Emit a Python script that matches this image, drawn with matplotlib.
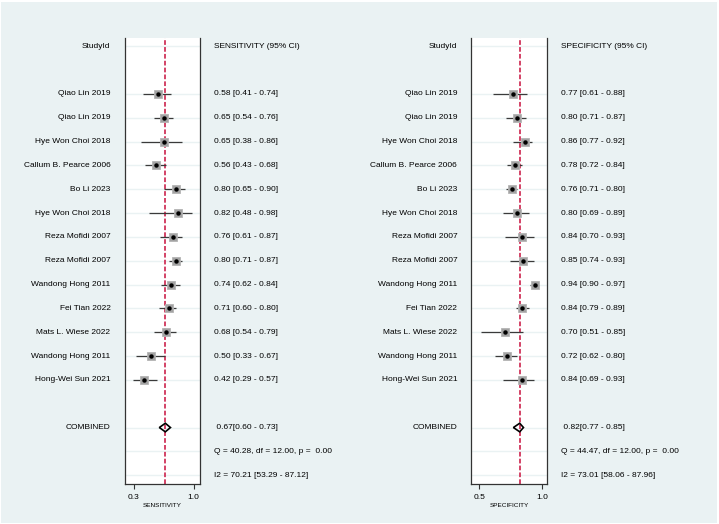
import numpy as np
import matplotlib.pyplot as plt
from matplotlib import transforms
from matplotlib.patches import Polygon, Rectangle

plt.rcParams['font.family'] = ['Liberation Sans', 'DejaVu Sans']

# Study data
studies = ['Qiao Lin 2019', 'Qiao Lin 2019', 'Hye Won Choi 2018', 'Callum B. Pearce 2006',
           'Bo Li 2023', 'Hye Won Choi 2018', 'Reza Mofidi 2007', 'Reza Mofidi 2007',
           'Wandong Hong 2011', 'Fei Tian 2022', 'Mats L. Wiese 2022', 'Wandong Hong 2011',
           'Hong-Wei Sun 2021']

sens = [0.58, 0.65, 0.65, 0.56, 0.80, 0.82, 0.76, 0.80, 0.74, 0.71, 0.68, 0.50, 0.42]
sens_lo = [0.41, 0.54, 0.38, 0.43, 0.65, 0.48, 0.61, 0.71, 0.62, 0.60, 0.54, 0.33, 0.29]
sens_hi = [0.74, 0.76, 0.86, 0.68, 0.90, 0.98, 0.87, 0.87, 0.84, 0.80, 0.79, 0.67, 0.57]

spec = [0.77, 0.80, 0.86, 0.78, 0.76, 0.80, 0.84, 0.85, 0.94, 0.84, 0.70, 0.72, 0.84]
spec_lo = [0.61, 0.71, 0.77, 0.72, 0.71, 0.69, 0.70, 0.74, 0.90, 0.79, 0.51, 0.62, 0.69]
spec_hi = [0.88, 0.87, 0.92, 0.84, 0.80, 0.89, 0.93, 0.93, 0.97, 0.89, 0.85, 0.80, 0.93]

sens_comb = [0.67, 0.60, 0.73]
spec_comb = [0.82, 0.77, 0.85]
sens_q = 'Q = 40.28, df = 12.00, p =  0.00'
spec_q = 'Q = 44.47, df = 12.00, p =  0.00'
sens_i2 = 'I2 = 70.21 [53.29 - 87.12]'
spec_i2 = 'I2 = 73.01 [58.06 - 87.96]'

bg = '#eaf2f3'
W, H = 719, 524

fig = plt.figure(figsize=(W / 100, H / 100), dpi=100)
fig.patch.set_facecolor('white')
fig.patches.append(Rectangle((1 / W, 1 / H), 1 - 3 / W, 1 - 3 / H, transform=fig.transFigure,
                             facecolor=bg, edgecolor='none', zorder=-10))


def panel(ax_rect, xlim, est, lo, hi, comb, q_text, i2_text, lab_x, val_x,
          header, xlabel, ticks):
    ax = fig.add_axes(ax_rect)
    ax.set_facecolor('white')
    n = len(est)
    rows = np.arange(2, 2 + n)
    comb_row, q_row, i2_row = n + 3, n + 4, n + 5

    # faint row lines
    for r in [0, *rows, comb_row, q_row, i2_row]:
        ax.axhline(r, color=bg, lw=1.0, zorder=0)

    ax.axvline(comb[0], color='#d0345a', lw=1.3, ls=(0, (2.6, 1.2)), zorder=1)

    ax.hlines(rows, lo, hi, color='#3a3a3a', lw=0.9, zorder=2)
    ax.plot(est, rows, 's', ms=5.5, color='#a3a3a3', mec='#b4b4b4', mew=0.6, zorder=3)
    ax.plot(est, rows, 'o', ms=2.2, color='black', zorder=4)

    h = 0.18
    dia = Polygon([[comb[1], comb_row], [comb[0], comb_row - h],
                   [comb[2], comb_row], [comb[0], comb_row + h]],
                  closed=True, fill=False, edgecolor='black', lw=1.2, zorder=5)
    ax.add_patch(dia)

    ax.set_xlim(*xlim)
    ax.set_ylim(i2_row + 0.37, -0.35)
    ax.set_yticks([])
    ax.set_xticks(ticks)
    ax.set_xticklabels([f'{t:.1f}' for t in ticks], fontsize=6)
    ax.tick_params(axis='x', length=3.6, width=0.8, color='#333333', pad=3.5)
    ax.set_xlabel(xlabel, fontsize=4.6, labelpad=1.2)
    ax.spines['top'].set_visible(False)
    for s in ['left', 'right', 'bottom']:
        ax.spines[s].set_color('#333333')
        ax.spines[s].set_linewidth(0.9)

    tr = transforms.blended_transform_factory(fig.transFigure, ax.transData)
    fs = 6
    ax.text(lab_x, 0, 'StudyId', transform=tr, ha='right', va='center', fontsize=fs)
    ax.text(val_x, 0, header, transform=tr, ha='left', va='center', fontsize=fs)
    for r, name, e, l, u in zip(rows, studies, est, lo, hi):
        ax.text(lab_x, r, name, transform=tr, ha='right', va='center', fontsize=fs)
        ax.text(val_x, r, f'{e:.2f} [{l:.2f} - {u:.2f}]', transform=tr,
                ha='left', va='center', fontsize=fs)
    ax.text(lab_x, comb_row, 'COMBINED', transform=tr, ha='right', va='center', fontsize=fs)
    ax.text(val_x, comb_row, f' {comb[0]:.2f}[{comb[1]:.2f} - {comb[2]:.2f}]', transform=tr,
            ha='left', va='center', fontsize=fs)
    ax.text(val_x, q_row, q_text, transform=tr, ha='left', va='center', fontsize=fs)
    ax.text(val_x, i2_row, i2_text, transform=tr, ha='left', va='center', fontsize=fs)
    return ax


bottom = 1 - 484 / H
height = (484 - 38) / H

panel([124.7 / W, bottom, 75.6 / W, height], (0.195, 1.079),
      sens, sens_lo, sens_hi, sens_comb, sens_q, sens_i2,
      110.5 / W, 214.3 / W, 'SENSITIVITY (95% CI)', 'SENSITIVITY', [0.3, 1.0])

panel([471 / W, bottom, 76.3 / W, height], (0.4335, 1.039),
      spec, spec_lo, spec_hi, spec_comb, spec_q, spec_i2,
      457.2 / W, 561 / W, 'SPECIFICITY (95% CI)', 'SPECIFICITY', [0.5, 1.0])

plt.savefig('out.png', dpi=100, facecolor=fig.get_facecolor())
